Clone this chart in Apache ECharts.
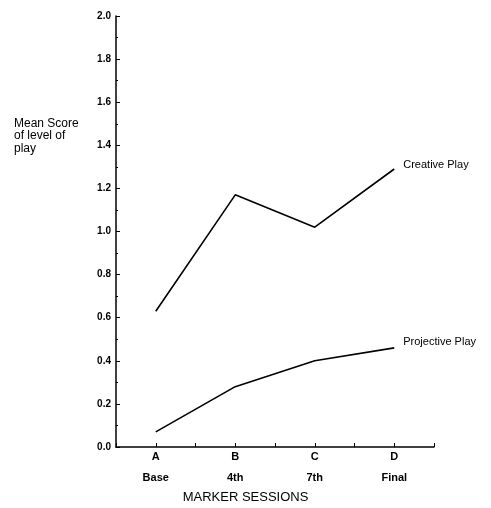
<!DOCTYPE html>
<html><head><meta charset="utf-8">
<script src="https://cdn.jsdelivr.net/npm/echarts@6/dist/echarts.min.js"></script>
<style>html,body{margin:0;padding:0;background:#fff}#c{width:491px;height:508px}</style>
</head><body><div id="c"></div>
<script>
const sessionLetters = ['A', 'B', 'C', 'D'];
const sessionNames = ['Base', '4th', '7th', 'Final'];
const sessionPositions = [1, 2, 3, 4];
const creativePlay = [0.63, 1.17, 1.02, 1.29];
const projectivePlay = [0.07, 0.28, 0.40, 0.46];
const yTicks = ['0.0','0.2','0.4','0.6','0.8','1.0','1.2','1.4','1.6','1.8','2.0'];

const font = 'Liberation Sans, Arial, sans-serif';
const chart = echarts.init(document.getElementById('c'), null, {renderer: 'canvas'});
const pair = (xs, ys) => xs.map((x, i) => [x, ys[i]]);

chart.setOption({
  animation: false,
  backgroundColor: '#fff',
  grid: {left: 116, right: 57, top: 16, bottom: 61},
  xAxis: {
    type: 'value', min: 0.5, max: 4.5, interval: 0.5,
    axisLine: {lineStyle: {color: '#000', width: 1.5}},
    axisTick: {inside: true, length: 4, lineStyle: {color: '#000', width: 1}},
    splitLine: {show: false},
    axisLabel: {
      color: '#000', fontFamily: font, fontSize: 11, fontWeight: 'bold', margin: 5,
      lineHeight: 10.5,
      formatter: v => {
        const i = sessionPositions.indexOf(v);
        return i >= 0 ? sessionLetters[i] + '\n\n' + sessionNames[i] : '';
      }
    }
  },
  yAxis: {
    type: 'value', min: 0, max: 2, interval: 0.2,
    axisLine: {show: true, lineStyle: {color: '#000', width: 1.5}},
    axisTick: {show: true, inside: true, length: 4, lineStyle: {color: '#000', width: 1}},
    minorTick: {show: true, splitNumber: 2, length: 2, lineStyle: {color: '#000', width: 1}},
    splitLine: {show: false},
    axisLabel: {
      color: '#000', fontFamily: font, fontSize: 10, fontWeight: 'bold', margin: 5,
      formatter: v => yTicks[Math.round(v / 0.2)]
    }
  },
  series: [
    {
      name: 'Creative Play', type: 'line', data: pair(sessionPositions, creativePlay),
      showSymbol: false, symbol: 'none',
      lineStyle: {color: '#000', width: 1.6},
      endLabel: {show: true, formatter: '{a}', color: '#000', fontFamily: font, fontSize: 11, distance: 9, offset: [0, -4]}
    },
    {
      name: 'Projective Play', type: 'line', data: pair(sessionPositions, projectivePlay),
      showSymbol: false, symbol: 'none',
      lineStyle: {color: '#000', width: 1.6},
      endLabel: {show: true, formatter: '{a}', color: '#000', fontFamily: font, fontSize: 11, distance: 9, offset: [0, -6]}
    }
  ],
  graphic: [
    {type: 'text', left: 14, top: 117, style: {text: 'Mean Score\nof level of\nplay', fill: '#000', font: '12px ' + font, lineHeight: 12.5}},
    {type: 'text', left: 'center', top: 491, x: -5, style: {text: 'MARKER SESSIONS', fill: '#000', font: '13px ' + font}}
  ]
});
</script>
</body></html>
